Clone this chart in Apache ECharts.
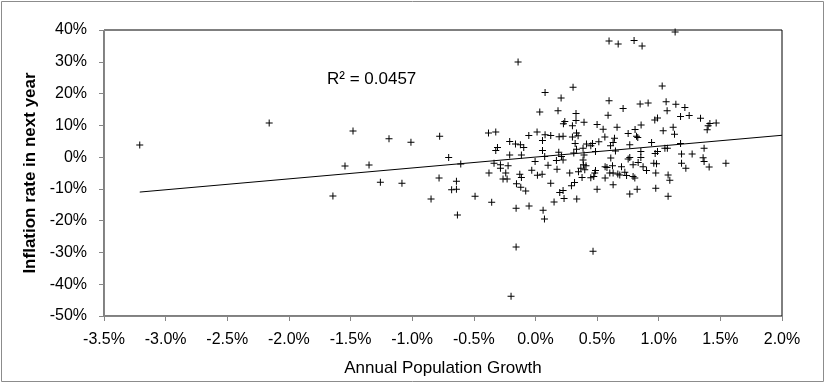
<!DOCTYPE html>
<html>
<head>
<meta charset="utf-8">
<script src="https://cdn.jsdelivr.net/npm/echarts@6/dist/echarts.min.js"></script>
<style>
html,body{margin:0;padding:0;background:#fff;}
#c{width:826px;height:385px;}
</style>
</head>
<body>
<div id="c"></div>
<script>
// Annual population growth (%) vs inflation rate in next year (%)
const growth = [
-3.21,-2.16,-1.643,-1.545,-1.48,-1.35,-1.258,-1.188,-1.083,-1.01,-0.777,-0.847,-0.782,-0.704,-0.68,-0.641,-0.641,-0.633,-0.606,
-0.141,0.078,0.305,0.208,0.035,0.183,0.329,0.238,0.227,0.329,0.394,0.30,-0.381,-0.322,-0.054,0.013,0.078,0.124,0.192,0.224,0.30,0.346,0.333,-0.308,-0.322,-0.209,-0.162,-0.122,-0.095,0.057,0.057,0.189,0.322,0.333,0.386,0.414,-0.209,-0.114,0.075,0.211,0.311,0.394,
-0.003,0.17,0.224,0.386,-0.336,-0.284,-0.222,-0.284,0.102,-0.377,-0.241,-0.127,-0.030,0.175,0.278,0.349,0.016,0.054,-0.114,-0.263,-0.23,0.378,-0.154,-0.119,-0.079,0.124,0.317,0.292,0.197,0.224,0.232,0.151,0.335,-0.49,-0.355,-0.157,-0.052,0.062,0.073,-0.157,-0.198,
1.133,0.597,0.671,0.80,0.865,1.028,0.597,0.711,0.849,0.914,1.06,1.139,1.212,1.068,0.589,1.177,1.247,1.339,0.968,0.99,0.50,0.549,0.662,0.857,0.808,0.752,0.82,0.83,1.036,1.117,1.128,1.401,1.415,1.466,1.393,0.563,0.641,0.514,0.463,0.63,0.609,0.765,0.942,1.05,1.07,0.99,0.971,1.177,1.368,0.449,0.487,0.649,0.855,0.611,0.765,0.855,1.185,1.271,1.36,
0.39,0.41,0.368,0.40,0.449,0.473,0.487,0.481,0.565,0.58,0.625,0.603,0.630,0.565,0.668,0.684,0.698,0.725,0.739,0.752,0.792,0.833,0.873,0.901,0.792,0.806,0.63,0.50,0.765,0.825,0.96,0.982,0.976,0.976,1.076,1.09,1.076,1.185,1.22,1.409,1.545,0.467,1.368
];
const inflation = [
3.8,10.7,-12.2,-2.8,8.2,-2.5,-7.9,5.8,-8.2,4.7,6.6,-13.2,-6.6,-0.1,-10.3,-7.6,-10.1,-18.2,-2.2,
29.9,20.3,22.0,18.6,14.2,14.6,13.7,11.2,10.5,11.5,11.0,9.9,7.6,7.9,6.8,7.9,7.0,6.8,6.4,6.6,6.3,6.7,7.6,3.0,2.1,4.9,4.1,3.9,3.0,5.2,2.1,1.5,4.3,2.5,2.8,4.1,0.7,0.7,0.2,0.2,1.3,0.7,
-1.4,-1.1,-0.9,-0.9,-1.9,-2.4,-2.7,-3.5,-2.6,-5.0,-5.0,-5.4,-4.1,-3.8,-5.0,-4.6,-5.7,-5.4,-6.4,-6.9,-6.9,-6.4,-8.4,-9.5,-10.7,-8.2,-8.0,-9.0,-11.1,-10.5,-13.0,-14.1,-13.2,-12.3,-14.2,-16.1,-15.4,-16.7,-19.5,-28.3,-43.8,
39.4,36.5,35.6,36.7,35.0,22.4,17.7,15.3,16.7,17.0,17.4,16.6,15.6,14.6,13.2,12.8,13.1,12.2,11.7,12.3,10.3,8.8,9.4,10.1,8.7,7.4,6.6,6.2,8.3,9.4,7.2,9.9,10.6,10.7,8.6,6.3,5.9,4.8,4.3,4.6,3.6,3.9,4.6,2.8,2.8,1.8,1.1,4.3,2.8,3.6,1.8,1.9,1.8,-0.3,-0.1,-0.1,1.0,1.0,-0.2,
-2.4,-2.7,-3.5,-4.0,-6.5,-6.1,-4.2,-5.0,-3.0,-3.3,-2.7,-5.0,-5.0,-6.6,-5.3,-5.6,-3.0,-4.8,-5.8,-0.6,-2.4,-1.7,-3.0,-4.2,-6.1,-6.6,-8.7,-10.1,-11.6,-10.1,-1.9,-2.1,-5.0,-9.8,-5.6,-7.3,-12.3,-1.9,-3.5,-3.1,-1.9,-29.6,-1.4
];
// Linear trend line end points
const trendX = [-3.21, 2.0];
const trendY = [-11.0, 6.87];
const rSquaredLabel = 'R\u00B2 = 0.0457';
const xTitle = 'Annual Population Growth';
const yTitle = 'Inflation rate in next year';

const points = growth.map((g, i) => [g, inflation[i]]);
const trend = trendX.map((x, i) => [x, trendY[i]]);

const FONT = 'Liberation Sans';
const chart = echarts.init(document.getElementById('c'), null, {renderer: 'canvas'});
chart.setOption({
  animation: false,
  backgroundColor: '#fff',
  grid: {left: 104, right: 44, top: 30, bottom: 69, show: true, borderColor: '#000', borderWidth: 1, containLabel: false},
  xAxis: {
    type: 'value', min: -3.5, max: 2.0, interval: 0.5,
    name: xTitle, nameLocation: 'middle', nameGap: 44,
    nameTextStyle: {fontFamily: FONT, fontSize: 17, color: '#000'},
    axisLine: {onZero: false, lineStyle: {color: '#868686', width: 1}},
    axisTick: {show: true, inside: false, length: 5, lineStyle: {color: '#868686'}},
    axisLabel: {margin: 16, fontFamily: FONT, fontSize: 16, color: '#000', formatter: v => v.toFixed(1) + '%'},
    splitLine: {show: false}
  },
  yAxis: {
    type: 'value', min: -50, max: 40, interval: 10,
    name: yTitle, nameLocation: 'middle', nameGap: 53,
    nameTextStyle: {fontFamily: FONT, fontSize: 17, fontWeight: 'bold', color: '#000'},
    axisLine: {onZero: false, lineStyle: {color: '#868686', width: 1}},
    axisTick: {show: true, inside: false, length: 5, lineStyle: {color: '#868686'}},
    axisLabel: {margin: 17, fontFamily: FONT, fontSize: 16, color: '#000', formatter: v => v + '%'},
    splitLine: {show: false}
  },
  graphic: [
    {type: 'rect', silent: true, shape: {x: 1.5, y: 1.5, width: 822, height: 380}, style: {fill: 'none', stroke: '#8c8c8c', lineWidth: 1}, z: -1},
    {type: 'text', left: 327, top: 71, style: {text: rSquaredLabel, font: '17px "Liberation Sans"', fill: '#000'}}
  ],
  series: [
    {
      type: 'scatter', data: points,
      symbol: 'path://M3,0H4V3H7V4H4V7H3V4H0V3H3Z', symbolSize: 7,
      itemStyle: {color: '#000', opacity: 1}
    },
    {
      type: 'line', data: trend, showSymbol: false, symbol: 'none',
      lineStyle: {color: '#000', width: 1}, silent: true
    }
  ]
});
</script>
</body>
</html>
